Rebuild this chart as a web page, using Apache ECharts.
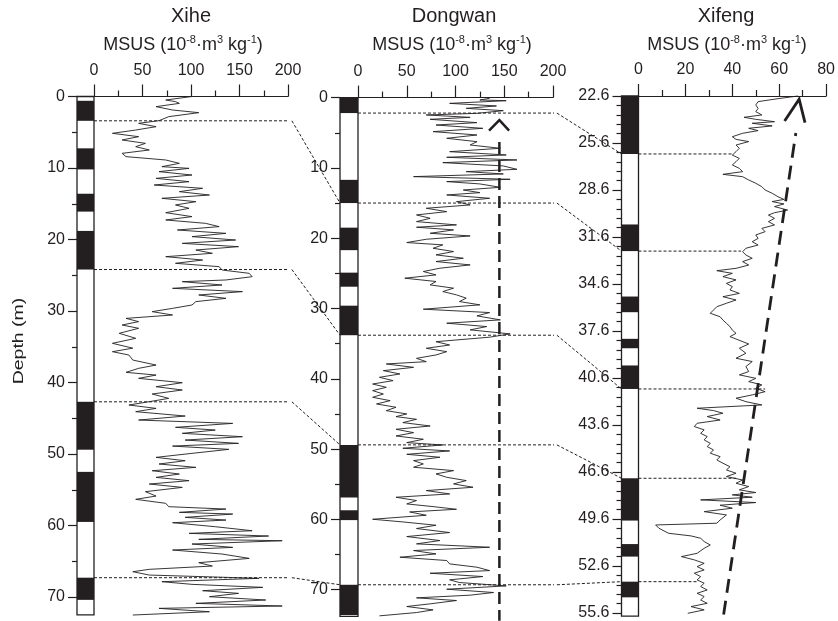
<!DOCTYPE html>
<html>
<head>
<meta charset="utf-8">
<title>MSUS profiles</title>
<script src="https://cdn.jsdelivr.net/npm/echarts@6/dist/echarts.min.js"></script>
<style>
  html, body { margin: 0; padding: 0; background: #fff; }
  #chart { width: 838px; height: 621px; }
</style>
</head>
<body>
<div id="chart"></div>
<script>
const ink = '#231f20'
const font = 'Liberation Sans, Arial, Helvetica, sans-serif'

// ---- Xihe ----
const xiheDepth = [0, 0.49, 0.72, 0.96, 1.42, 1.89, 2.26, 2.82, 3.38, 3.75, 4.22, 4.69, 5.15, 5.62, 6.08, 6.55, 7.02, 7.48, 7.95, 8.2, 8.41, 8.88, 9.35, 9.81, 10.05, 10.51, 10.98, 11.45, 11.91, 12.38, 12.84, 13.31, 13.78, 14.24, 14.71, 15.17, 15.64, 16.25, 16.8, 17.27, 17.74, 18.2, 18.67, 19.14, 19.6, 20.07, 20.54, 21.0, 21.47, 21.93, 22.4, 22.87, 23.33, 23.8, 24.27, 24.73, 25.2, 25.66, 25.9, 26.36, 26.83, 27.29, 27.76, 28.23, 28.69, 29.16, 29.63, 30.09, 30.56, 31.03, 31.49, 31.96, 32.42, 33.12, 33.82, 34.52, 35.2, 35.69, 36.16, 36.86, 37.56, 38.02, 38.58, 38.96, 39.42, 40.03, 40.59, 41.05, 41.61, 42.22, 42.68, 43.15, 43.62, 44.08, 44.69, 45.25, 45.72, 46.27, 46.65, 47.11, 47.58, 48.05, 48.51, 48.89, 49.35, 49.91, 50.47, 50.94, 51.4, 51.87, 52.34, 52.8, 53.27, 53.73, 54.2, 54.67, 55.27, 55.88, 56.34, 56.9, 57.37, 57.7, 58.16, 58.4, 58.86, 59.24, 59.61, 60.17, 60.73, 61.1, 61.47, 61.94, 62.13, 62.59, 63.06, 63.43, 63.99, 64.6, 65.2, 65.67, 66.13, 66.46, 66.93, 67.39, 67.86, 68.23, 68.65, 69.12, 69.49, 69.96, 70.42, 70.89, 71.26, 71.59, 72.06, 72.52]
const xiheMsus = [101, 74, 84, 88, 64, 81, 108, 77, 67, 46, 64, 43, 19, 46, 29, 53, 43, 57, 29, 27, 33, 74, 88, 70, 98, 67, 101, 64, 98, 62, 112, 88, 119, 70, 105, 84, 98, 74, 101, 74, 115, 129, 86, 136, 101, 146, 91, 149, 105, 122, 74, 112, 84, 129, 132, 160, 163, 136, 91, 132, 81, 153, 108, 136, 105, 101, 81, 60, 81, 33, 46, 29, 46, 26, 43, 19, 40, 19, 36, 40, 64, 46, 33, 64, 46, 91, 64, 91, 60, 77, 57, 36, 64, 43, 94, 46, 143, 84, 125, 91, 153, 94, 149, 81, 139, 101, 64, 94, 67, 105, 60, 88, 64, 98, 57, 91, 53, 64, 43, 74, 77, 136, 88, 143, 94, 136, 81, 125, 163, 98, 180, 108, 194, 101, 143, 81, 132, 160, 108, 122, 57, 40, 57, 170, 70, 101, 174, 112, 149, 119, 177, 105, 194, 67, 119, 40]
const xiheBlack = [[0.6, 3.4], [7.25, 10.2], [13.6, 16.1], [18.8, 24.2], [42.7, 49.4], [52.5, 59.5], [67.3, 70.4]]
const xiheBottom = 72.5
const xiheTies = [3.4, 24.2, 42.7, 67.3]

// ---- Dongwan ----
const dongwanDepth = [0.1, 0.34, 0.44, 0.82, 1.19, 1.53, 1.86, 2.24, 2.47, 2.81, 3.09, 3.56, 3.9, 4.37, 4.84, 5.32, 5.79, 6.27, 6.74, 7.21, 7.69, 8.16, 8.49, 8.87, 9.25, 9.72, 10.2, 10.53, 10.86, 11.24, 11.62, 11.95, 12.28, 12.76, 13.14, 13.52, 13.85, 14.32, 14.8, 15.27, 15.74, 16.22, 16.69, 17.17, 17.64, 18.11, 18.44, 18.82, 19.3, 19.68, 20.15, 20.62, 20.95, 21.43, 21.9, 22.37, 22.85, 23.32, 23.8, 24.27, 24.74, 25.22, 25.69, 26.16, 26.64, 27.11, 27.59, 28.06, 28.53, 29.01, 29.48, 30.1, 30.58, 31.05, 31.62, 32.09, 32.57, 33.04, 33.61, 34.08, 34.72, 35.19, 35.66, 36.14, 36.61, 37.09, 37.56, 37.89, 38.37, 38.84, 39.31, 39.79, 40.26, 40.74, 41.21, 41.68, 42.16, 42.63, 43.11, 43.58, 44.05, 44.53, 45.0, 45.38, 45.76, 46.23, 46.71, 47.18, 47.66, 48.13, 48.6, 49.08, 49.41, 49.88, 50.26, 50.74, 51.16, 51.64, 52.11, 52.58, 53.06, 53.53, 54.01, 54.48, 54.95, 55.43, 55.9, 56.38, 56.85, 57.32, 57.8, 58.18, 58.56, 58.94, 59.41, 59.98, 60.36, 60.83, 61.3, 61.87, 62.44, 63.01, 63.48, 63.96, 64.43, 64.91, 65.38, 65.85, 66.33, 66.8, 67.28, 67.66, 68.13, 68.6, 68.98, 69.46, 69.93, 70.4, 70.78, 71.16, 71.54, 72.01, 72.39, 72.87, 73.25, 73.72]
const dongwanMsus = [135, 125, 152, 94, 142, 111, 149, 122, 70, 115, 74, 122, 80, 128, 77, 122, 91, 122, 115, 146, 94, 152, 91, 163, 87, 149, 163, 111, 149, 57, 156, 91, 125, 146, 108, 125, 91, 135, 101, 115, 70, 91, 60, 74, 60, 101, 60, 98, 74, 115, 70, 50, 87, 77, 98, 80, 108, 80, 115, 84, 67, 80, 48, 80, 74, 98, 87, 101, 111, 104, 125, 67, 135, 122, 146, 91, 132, 115, 156, 135, 80, 94, 70, 91, 80, 60, 70, 29, 57, 26, 43, 22, 36, 15, 29, 15, 26, 15, 33, 19, 39, 29, 50, 39, 60, 46, 74, 39, 57, 39, 67, 50, 87, 46, 94, 50, 84, 57, 67, 57, 98, 80, 91, 111, 98, 118, 70, 94, 39, 60, 50, 77, 101, 53, 70, 15, 46, 80, 60, 94, 50, 84, 60, 135, 57, 80, 43, 91, 94, 122, 135, 74, 128, 94, 104, 152, 91, 139, 115, 60, 101, 74, 50, 77, 60, 22]
const dongwanBlack = [[0, 2.2], [11.7, 15], [18.5, 21.7], [24.9, 26.9], [29.6, 33.8], [49.4, 56.9], [58.7, 60.1], [69.3, 73.6]]
const dongwanBottom = 73.8
const dongwanTies = [2.2, 15, 33.8, 49.4, 69.3]
const dongwanTrend = [[145, 6.3], [145, 74.4]]
const dongwanHead = [[134.4, 4.7], [145, 3.2], [155, 4.7]]

// ---- Xifeng ----
const xifengDepth = [22.6, 22.77, 22.96, 23.17, 23.39, 23.6, 23.81, 23.96, 24.09, 24.24, 24.34, 24.51, 24.66, 24.81, 24.98, 25.2, 25.37, 25.51, 25.73, 25.94, 26.15, 26.37, 26.58, 26.79, 27.0, 27.22, 27.43, 27.6, 27.75, 27.96, 28.17, 28.39, 28.6, 28.81, 29.03, 29.2, 29.34, 29.49, 29.66, 29.88, 30.05, 30.2, 30.41, 30.62, 30.83, 31.05, 31.26, 31.47, 31.69, 31.9, 32.11, 32.32, 32.54, 32.75, 32.96, 33.17, 33.39, 33.6, 33.75, 33.92, 34.13, 34.34, 34.56, 34.77, 34.98, 35.2, 35.41, 35.62, 35.83, 36.05, 36.26, 36.47, 36.69, 36.9, 37.11, 37.32, 37.54, 37.75, 37.96, 38.43, 38.7, 39.02, 39.34, 39.55, 39.87, 40.19, 40.4, 40.62, 40.83, 41.04, 41.26, 41.47, 41.68, 41.89, 42.11, 42.32, 42.53, 42.68, 42.85, 43.06, 43.28, 43.49, 43.7, 43.91, 44.13, 44.34, 44.55, 44.77, 44.98, 45.19, 45.4, 45.62, 45.83, 46.04, 46.26, 46.47, 46.68, 46.89, 47.11, 47.32, 47.53, 47.74, 47.91, 48.06, 48.21, 48.38, 48.55, 48.72, 48.91, 49.13, 49.34, 49.66, 49.87, 49.98, 50.19, 50.51, 50.68, 50.83, 51.04, 51.26, 51.47, 51.79, 52.0, 52.21, 52.43, 52.64, 52.85, 53.06, 53.28, 53.49, 53.7, 53.91, 54.13, 54.34, 54.55, 54.77, 54.98, 55.19, 55.4, 55.62]
const xifengMsus = [68, 59.5, 51, 50, 51, 50, 52.6, 45, 50, 58, 48.5, 57, 47, 51, 44.4, 40, 41.6, 47, 41.6, 43, 41.6, 40, 43, 41.6, 40, 43, 44.4, 36, 44.4, 47, 50, 52.6, 54, 57, 59.5, 62, 57, 62, 58, 63.6, 58, 55.4, 58, 55.4, 58, 52.6, 54, 50, 51, 48.5, 51, 45.8, 44.4, 45.8, 48.5, 44.4, 47, 41.6, 33.4, 40, 36, 41.6, 37.5, 40, 39, 43, 36, 41.6, 37.5, 33.4, 32, 30.6, 34.8, 36, 37.5, 39, 40, 41.6, 39, 47, 43, 45.8, 41.6, 48.5, 45.8, 47, 43, 50, 47, 52.6, 50, 54, 48.5, 41.6, 45.8, 52.6, 25, 32, 36, 29.3, 34.8, 25, 23.8, 28, 26.5, 29.3, 28, 30.6, 29.3, 32, 30.6, 34.8, 33.4, 36, 39, 37.5, 41.6, 37.5, 44.4, 41.6, 47, 43, 50, 40, 48.5, 26.5, 50, 34.8, 40, 28, 37.5, 34.8, 33.4, 7.3, 8.7, 12.8, 22.4, 26.5, 28, 30.6, 28, 25, 18.3, 23.8, 28, 25, 28, 23.8, 26.5, 25, 28, 26.5, 29.3, 25, 28, 26.5, 29.3, 22.4, 28, 21]
const xifengBlack = [[22.6, 26.3], [30.8, 32.5], [35.4, 36.4], [38.1, 38.7], [39.8, 41.3], [47.0, 49.7], [51.2, 52.0], [53.6, 54.6]]
const xifengBottom = 55.8
const xifengTies = [26.3, 32.5, 41.3, 47.0, 53.6]
const xifengTieEnd = [40.4, 43.7, 54, 41.6, 25]
const xifengTrend = [[36.3, 55.7], [67.1, 24.96]]
const xifengHead = [[62.3, 24.2], [68.5, 22.8], [71, 24.3]]

const tieReach = 204

const chart = echarts.init(document.getElementById('chart'))

function zip(xs, ys) {
  return xs.map((x, i) => [ys[i], x])
}

function columnSeries(idx, top, bottom, blacks) {
  const data = [[top, bottom, 0]].concat(blacks.map(b => [b[0], b[1], 1]))
  return {
    type: 'custom',
    xAxisIndex: idx,
    yAxisIndex: idx,
    clip: false,
    silent: true,
    data: data,
    renderItem: (params, api) => {
      const a = api.coord([0, api.value(0)])
      const b = api.coord([1, api.value(1)])
      const black = api.value(2) === 1
      return {
        type: 'rect',
        shape: { x: a[0], y: a[1], width: b[0] - a[0], height: b[1] - a[1] },
        style: black ? { fill: ink } : { fill: '#fff', stroke: ink, lineWidth: 1.3 }
      }
    }
  }
}

function curveSeries(idx, data) {
  return {
    type: 'line',
    xAxisIndex: idx,
    yAxisIndex: idx,
    data: data,
    clip: false,
    symbol: 'none',
    silent: true,
    lineStyle: { color: ink, width: 0.9 }
  }
}

function tieSeries(idx, depth, reach) {
  return {
    type: 'line',
    xAxisIndex: idx,
    yAxisIndex: idx,
    data: [[0, depth], [reach, depth]],
    clip: false,
    symbol: 'none',
    silent: true,
    lineStyle: { color: ink, width: 1, type: [3, 2] }
  }
}

function trendSeries(idx, data, dash, width) {
  return {
    type: 'line',
    xAxisIndex: idx,
    yAxisIndex: idx,
    data: data,
    clip: false,
    symbol: 'none',
    silent: true,
    lineStyle: { color: ink, width: width, type: dash, cap: 'butt', join: 'miter' }
  }
}

function columnX(gridIndex) {
  return { type: 'value', gridIndex, min: 0, max: 1, show: false }
}

function msusAxis(gridIndex, max, interval) {
  return {
    type: 'value', gridIndex, position: 'top', min: 0, max, interval,
    axisLine: { show: true, onZero: false, lineStyle: { color: ink, width: 1.2 } },
    axisTick: { show: true, length: 12, lineStyle: { color: ink, width: 1.2 } },
    minorTick: { show: true, splitNumber: 2, length: 6, lineStyle: { color: ink, width: 1.2 } },
    axisLabel: { color: ink, fontSize: 16, fontFamily: font, margin: 18 },
    splitLine: { show: false },
    minorSplitLine: { show: false }
  }
}

function depthAxis(gridIndex, min, max, interval, minorSplit, shown) {
  return {
    type: 'value', gridIndex, inverse: true, min, max, interval,
    show: shown,
    axisLine: { show: false, onZero: false },
    axisTick: { show: true, length: 9, lineStyle: { color: ink, width: 1.2 } },
    minorTick: { show: true, splitNumber: minorSplit, length: 5, lineStyle: { color: ink, width: 1.2 } },
    axisLabel: { color: ink, fontSize: 16, fontFamily: font, margin: 12 },
    splitLine: { show: false },
    minorSplitLine: { show: false }
  }
}

const option = {
  animation: false,
  backgroundColor: '#fff',
  grid: [
    { left: 77, top: 96.5, width: 17, height: 500.5 },
    { left: 94, top: 96.5, width: 194, height: 500.5 },
    { left: 340, top: 97.6, width: 18, height: 492.1 },
    { left: 358, top: 97.6, width: 195, height: 492.1 },
    { left: 621.5, top: 96, width: 17, height: 517 },
    { left: 638.5, top: 96, width: 194.5, height: 517 }
  ],
  xAxis: [
    columnX(0), msusAxis(1, 200, 50),
    columnX(2), msusAxis(3, 200, 50),
    columnX(4), msusAxis(5, 80, 20)
  ],
  yAxis: [
    depthAxis(0, 0, 70, 10, 2, true), depthAxis(1, 0, 70, 10, 2, false),
    depthAxis(2, 0, 70, 10, 2, true), depthAxis(3, 0, 70, 10, 2, false),
    depthAxis(4, 22.6, 55.6, 3, 5, true), depthAxis(5, 22.6, 55.6, 3, 5, false)
  ],
  series: [
    columnSeries(0, 0, xiheBottom, xiheBlack),
    curveSeries(1, zip(xiheDepth, xiheMsus)),
    ...xiheTies.map(d => tieSeries(1, d, tieReach)),
    columnSeries(2, 0, dongwanBottom, dongwanBlack),
    curveSeries(3, zip(dongwanDepth, dongwanMsus)),
    ...dongwanTies.map(d => tieSeries(3, d, tieReach)),
    trendSeries(3, dongwanTrend, [12, 6], 2.5),
    trendSeries(3, dongwanHead, 'solid', 2.5),
    columnSeries(4, 22.6, xifengBottom, xifengBlack),
    curveSeries(5, zip(xifengDepth, xifengMsus)),
    ...xifengTies.map((d, i) => tieSeries(5, d, xifengTieEnd[i])),
    trendSeries(5, xifengTrend, [14, 8], 2.8),
    trendSeries(5, xifengHead, 'solid', 2.8)
  ]
}

chart.setOption(option)

// labels and the slanted correlation links between panels
const unitText = '{n|MSUS (10}{s|-8}{n|·m}{s|3}{n| kg}{s|-1}{n|)}'
const unitRich = {
  n: { fontSize: 18, fontFamily: font, fill: ink, lineHeight: 22 },
  s: { fontSize: 11, fontFamily: font, fill: ink, lineHeight: 22, verticalAlign: 'top' }
}
const titles = [['Xihe', 191, 183], ['Dongwan', 454, 452], ['Xifeng', 726, 727]]
const graphics = []
titles.forEach(t => {
  graphics.push({
    type: 'text', x: t[1], y: 16, silent: true,
    style: { text: t[0], font: '20px ' + font, fill: ink, align: 'center', verticalAlign: 'middle' }
  })
  graphics.push({
    type: 'text', x: t[2], y: 45, silent: true,
    style: { text: unitText, rich: unitRich, align: 'center', verticalAlign: 'middle' }
  })
})
graphics.push({
  type: 'text', x: 18.5, y: 341, rotation: Math.PI / 2, scaleX: 1.3, silent: true,
  style: { text: 'Depth (m)', font: '15px ' + font, fill: ink, align: 'center', verticalAlign: 'middle' }
})

function link(a, b) {
  return {
    type: 'line', silent: true,
    shape: { x1: a[0], y1: a[1], x2: b[0], y2: b[1] },
    style: { stroke: ink, lineWidth: 1, lineDash: [3, 2] }
  }
}
xiheTies.forEach((d, i) => {
  const a = chart.convertToPixel({ gridIndex: 1 }, [tieReach, d])
  const b = chart.convertToPixel({ gridIndex: 2 }, [0, dongwanTies[i + 1]])
  graphics.push(link(a, b))
})
dongwanTies.forEach((d, i) => {
  const a = chart.convertToPixel({ gridIndex: 3 }, [tieReach, d])
  const b = chart.convertToPixel({ gridIndex: 4 }, [0, xifengTies[i]])
  graphics.push(link(a, b))
})

chart.setOption({ graphic: graphics })
</script>
</body>
</html>
